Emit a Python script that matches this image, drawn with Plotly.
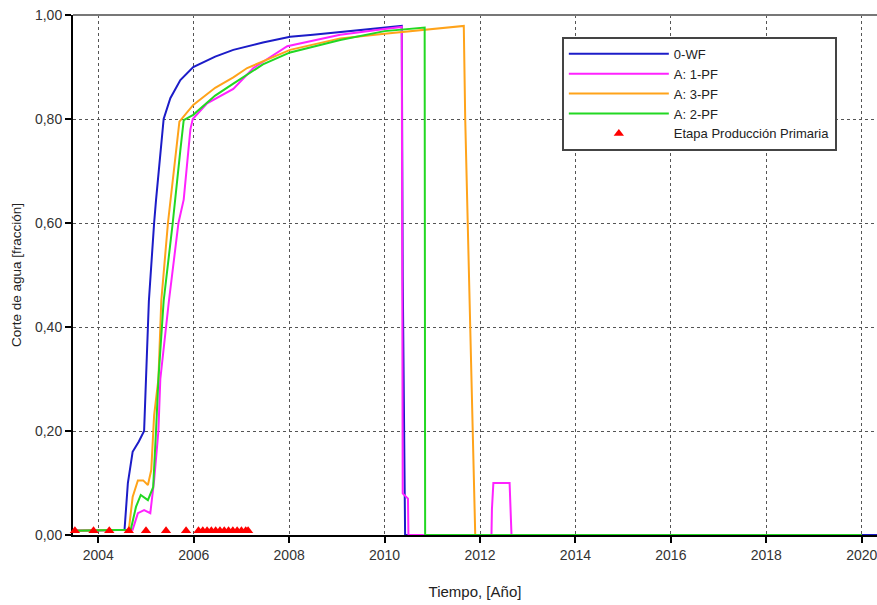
import plotly.graph_objects as go

# ---------------- data ----------------
t_wf = [2003.47, 2004.55, 2004.62, 2004.72, 2004.85, 2004.96, 2005.00, 2005.06, 2005.17, 2005.21,
        2005.37, 2005.51, 2005.72, 2005.99, 2006.45, 2006.83, 2007.45, 2008.02, 2008.5, 2009.07,
        2009.5, 2010.0, 2010.25, 2010.36, 2010.38, 2010.42, 2010.43, 2020.32]
v_wf = [0.008, 0.01, 0.10, 0.16, 0.18, 0.20, 0.30, 0.45, 0.60, 0.644,
        0.80, 0.84, 0.875, 0.90, 0.92, 0.933, 0.947, 0.958, 0.962, 0.967,
        0.971, 0.975, 0.978, 0.979, 0.50, 0.10, 0.0, 0.0]

t_pf1 = [2003.47, 2004.72, 2004.83, 2004.96, 2005.09, 2005.17, 2005.26, 2005.30, 2005.48, 2005.68,
         2005.79, 2005.93, 2005.98, 2006.28, 2006.83, 2007.25, 2007.96, 2009.07, 2010.0, 2010.36,
         2010.38, 2010.49, 2010.50, 2012.24, 2012.25, 2012.28, 2012.62, 2012.64, 2012.66, 2020.0]
v_pf1 = [0.008, 0.01, 0.042, 0.048, 0.042, 0.105, 0.20, 0.30, 0.45, 0.60,
         0.645, 0.78, 0.80, 0.83, 0.858, 0.898, 0.94, 0.962, 0.973, 0.977,
         0.08, 0.07, 0.0, 0.0, 0.05, 0.10, 0.10, 0.05, 0.0, 0.0]

t_pf3 = [2003.47, 2004.64, 2004.72, 2004.83, 2004.94, 2005.04, 2005.11, 2005.17, 2005.26, 2005.32,
         2005.46, 2005.66, 2005.70, 2005.99, 2006.45, 2006.83, 2007.12, 2008.02, 2009.07, 2010.0,
         2010.85, 2011.3, 2011.66, 2011.69, 2011.74, 2011.80, 2011.86, 2011.90, 2020.0]
v_pf3 = [0.008, 0.01, 0.073, 0.105, 0.105, 0.096, 0.125, 0.23, 0.30, 0.45,
         0.60, 0.77, 0.795, 0.827, 0.86, 0.88, 0.898, 0.933, 0.955, 0.964,
         0.971, 0.975, 0.979, 0.80, 0.62, 0.40, 0.15, 0.0, 0.0]

t_pf2 = [2003.47, 2004.68, 2004.79, 2004.89, 2005.04, 2005.15, 2005.21, 2005.26, 2005.37, 2005.56,
         2005.72, 2005.79, 2005.99, 2006.45, 2006.83, 2007.45, 2008.02, 2009.07, 2010.0, 2010.84,
         2010.85, 2020.0]
v_pf2 = [0.008, 0.01, 0.054, 0.077, 0.067, 0.092, 0.20, 0.30, 0.45, 0.60,
         0.74, 0.798, 0.808, 0.845, 0.868, 0.905, 0.928, 0.952, 0.969, 0.976,
         0.0, 0.0]

t_prim = [2003.51, 2003.90, 2004.23, 2004.64, 2005.00, 2005.42, 2005.84,
          2006.10, 2006.19, 2006.28, 2006.37, 2006.46, 2006.55, 2006.64, 2006.73,
          2006.82, 2006.91, 2007.00, 2007.09, 2007.14]
v_prim = [0.008] * len(t_prim)

x_ticks = [2004, 2006, 2008, 2010, 2012, 2014, 2016, 2018, 2020]
y_ticks = [0.0, 0.2, 0.4, 0.6, 0.8, 1.0]
y_ticklabels = ["0,00", "0,20", "0,40", "0,60", "0,80", "1,00"]

FONT = "Arial, Liberation Sans, sans-serif"

fig = go.Figure()
series = [
    ("0-WF", t_wf, v_wf, "#1c1cc8"),
    ("A: 1-PF", t_pf1, v_pf1, "#ff22ff"),
    ("A: 3-PF", t_pf3, v_pf3, "#ffa31a"),
    ("A: 2-PF", t_pf2, v_pf2, "#22d822"),
]
for name, t, v, c in series:
    fig.add_trace(go.Scatter(x=t, y=v, mode="lines", name=name,
                             line=dict(color=c, width=2), cliponaxis=False))
fig.add_trace(go.Scatter(x=t_prim, y=v_prim, mode="markers", name="Etapa Producción Primaria",
                         marker=dict(symbol="triangle-up", size=9, color="#ff0000"),
                         cliponaxis=False))

fig.update_layout(
    width=877, height=605,
    margin=dict(l=73, r=0, t=15, b=70),
    plot_bgcolor="white", paper_bgcolor="white",
    font=dict(family=FONT, size=14, color="#333333"),
    showlegend=True,
    legend=dict(x=0.608, y=0.958, xanchor="left", yanchor="top",
                bgcolor="white", bordercolor="#444444", borderwidth=2,
                font=dict(family=FONT, size=13, color="#222222"),
                itemwidth=100, tracegroupgap=0,
                entrywidth=285, entrywidthmode="pixels"),
    xaxis=dict(range=[2003.47, 2020.32], tickvals=x_ticks, tickformat="d",
               ticklabeloverflow="allow",
               showgrid=True, gridcolor="#555555", griddash="dot", gridwidth=1,
               showline=True, linecolor="black", linewidth=2,
               ticks="outside", ticklen=6, tickwidth=2, tickcolor="black",
               zeroline=False, layer="below traces",
               title=dict(text="Tiempo, [Año]", standoff=25, font=dict(size=15, color="#222222"))),
    yaxis=dict(range=[0, 1.0], tickvals=y_ticks, ticktext=y_ticklabels,
               showgrid=True, gridcolor="#555555", griddash="dot", gridwidth=1,
               showline=True, linecolor="black", linewidth=2,
               ticks="outside", ticklen=6, tickwidth=2, tickcolor="black",
               zeroline=False, layer="below traces",
               title=dict(text="Corte de agua [fracción]", standoff=10, font=dict(size=13.5, color="#222222"))),
    shapes=[dict(type="line", xref="paper", yref="paper", x0=0, x1=1, y0=1, y1=1,
                 line=dict(color="#777777", width=2))],
)

fig.write_html("out.html")
